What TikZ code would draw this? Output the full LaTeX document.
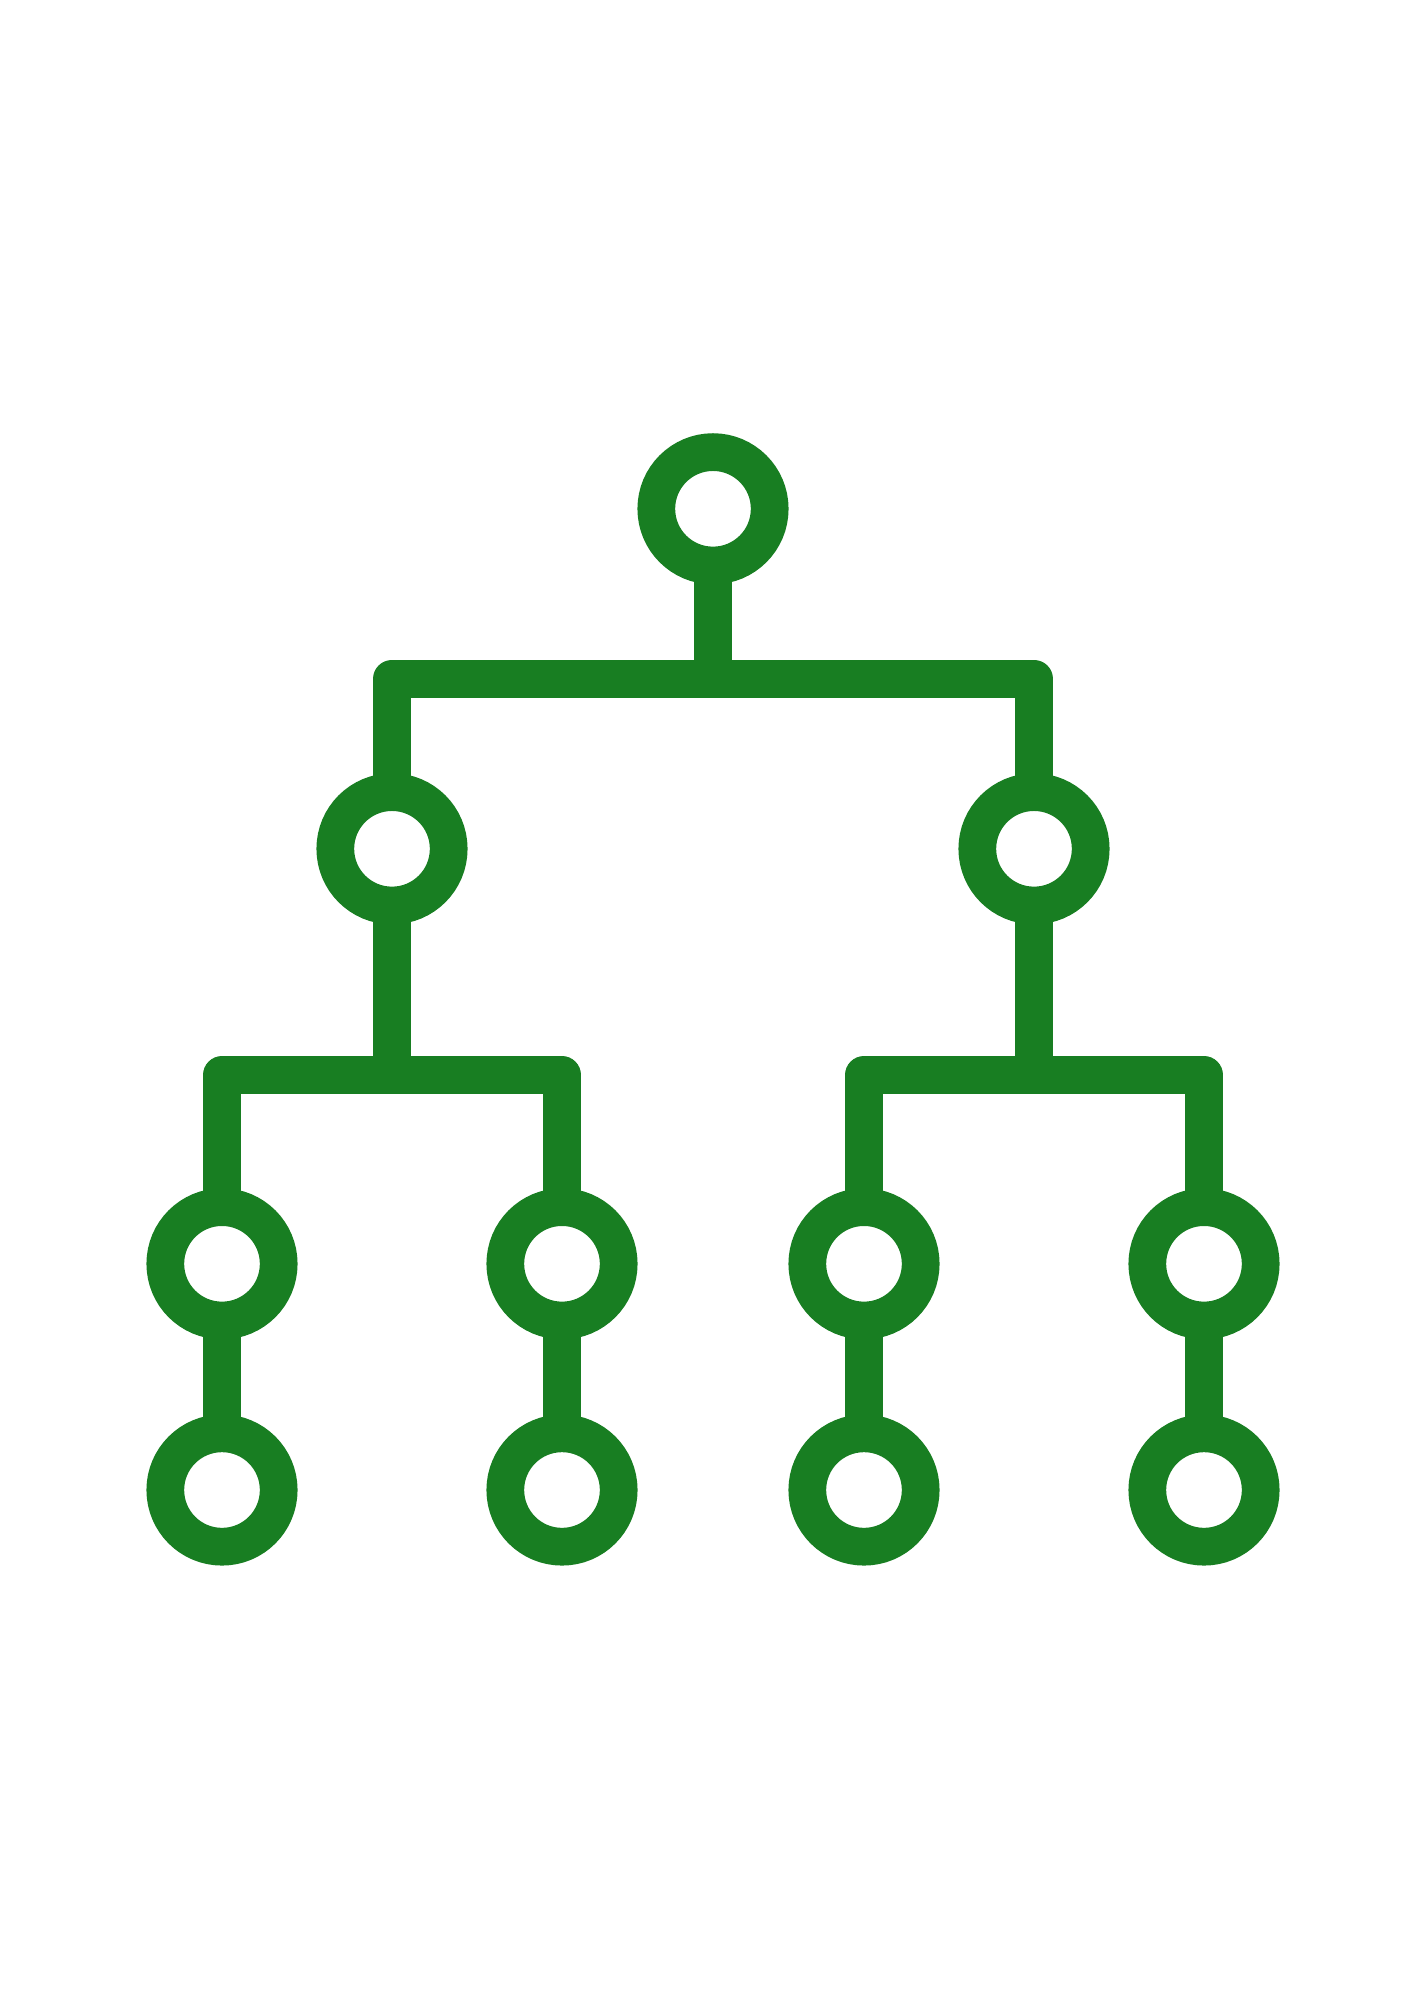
\documentclass[tikz,border=0pt]{standalone}
\definecolor{treegreen}{RGB}{24,126,34}
\begin{document}
\begin{tikzpicture}[x=1pt,y=-1pt,
  ring/.style={circle,draw=treegreen,line width=37.7pt,minimum size=113.4pt,inner sep=0pt,outer sep=0pt,fill=white},
  link/.style={draw=treegreen,line width=37.7pt,line join=round}]
\fill[white] (0,0) rectangle (1414,2000);
\useasboundingbox (0,0) rectangle (1414,2000);
% rings
\node[ring] (top) at (713,508.8) {};
\node[ring] (l1a) at (392,848.8) {};
\node[ring] (l1b) at (1034,848.8) {};
\node[ring] (l2a) at (222,1263.8) {};
\node[ring] (l2b) at (562,1263.8) {};
\node[ring] (l2c) at (864,1263.8) {};
\node[ring] (l2d) at (1204,1263.8) {};
\node[ring] (l3a) at (222,1490) {};
\node[ring] (l3b) at (562,1490) {};
\node[ring] (l3c) at (864,1490) {};
\node[ring] (l3d) at (1204,1490) {};
% junction points on the bars
\coordinate (j1) at (713,678.7);
\coordinate (j2L) at (392,1075);
\coordinate (j2R) at (1034,1075);
% connectors
\path[link] (top.south) -- (j1);
\path[link] (l1a.north) |- (j1) -| (l1b.north);
\path[link] (l1a.south) -- (j2L);
\path[link] (l1b.south) -- (j2R);
\path[link] (l2a.north) |- (j2L) -| (l2b.north);
\path[link] (l2c.north) |- (j2R) -| (l2d.north);
\path[link] (l2a.south) -- (l3a.north);
\path[link] (l2b.south) -- (l3b.north);
\path[link] (l2c.south) -- (l3c.north);
\path[link] (l2d.south) -- (l3d.north);
\end{tikzpicture}
\end{document}
